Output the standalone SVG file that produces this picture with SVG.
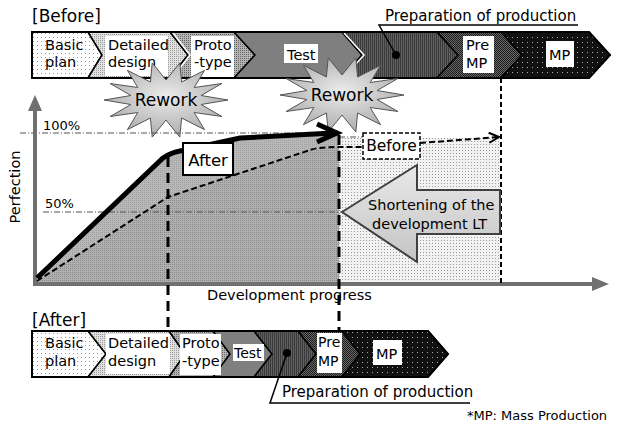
<svg xmlns="http://www.w3.org/2000/svg" width="619" height="428" viewBox="0 0 619 428">
<style>
text{font-family:"DejaVu Sans","Liberation Sans",sans-serif;fill:#000}
.lbl{font-size:14.5px}
.seg{stroke:#000;stroke-width:1.5;stroke-linejoin:miter}
.box{fill:#fff}
.dd{fill:none;stroke:#555;stroke-width:1;stroke-dasharray:6 2 1 2}
.vd{fill:none;stroke:#000;stroke-width:3;stroke-dasharray:10 6}
.star{stroke:#555;stroke-width:1;fill:url(#gStar)}
</style>
<defs>
<pattern id="pBasic" width="4" height="4" patternUnits="userSpaceOnUse"><rect width="4" height="4" fill="#fff"/><rect x="1" y="1" width="1" height="1" fill="#999"/></pattern>
<pattern id="pDesign" width="2" height="2" patternUnits="userSpaceOnUse"><rect width="2" height="2" fill="#e2e2e2"/><rect width="1" height="1" fill="#999"/></pattern>
<pattern id="pProto" width="2" height="2" patternUnits="userSpaceOnUse"><rect width="2" height="2" fill="#b4b4b4"/><rect width="1" height="1" fill="#666"/></pattern>
<pattern id="pPrep" width="2" height="2" patternUnits="userSpaceOnUse"><rect width="2" height="2" fill="#606060"/><rect width="1" height="2" fill="#3a3a3a"/></pattern>
<pattern id="pPreMP" width="2" height="2" patternUnits="userSpaceOnUse"><rect width="2" height="2" fill="#6a6a6a"/><rect width="1" height="1" fill="#1a1a1a"/><rect x="1" y="1" width="1" height="1" fill="#1a1a1a"/></pattern>
<pattern id="pMP" width="5" height="5" patternUnits="userSpaceOnUse"><rect width="5" height="5" fill="#111"/><rect x="2" y="2" width="1" height="1" fill="#aaa"/></pattern>
<pattern id="pAfter" width="2" height="2" patternUnits="userSpaceOnUse"><rect width="2" height="2" fill="#b8b8b8"/><rect width="1" height="1" fill="#a0a0a0"/></pattern>
<pattern id="pBelow" width="2" height="2" patternUnits="userSpaceOnUse"><rect width="2" height="2" fill="#b0b0b0"/><rect width="1" height="1" fill="#8a8a8a"/></pattern>
<pattern id="pLight" width="3" height="3" patternUnits="userSpaceOnUse"><rect width="3" height="3" fill="#f2f2f2"/><rect width="1" height="1" fill="#999"/></pattern>
<radialGradient id="gStar" cx="0.5" cy="0.45" r="0.6"><stop offset="0" stop-color="#ececec"/><stop offset="1" stop-color="#a6a6a6"/></radialGradient>
<linearGradient id="gArrow" x1="0" y1="0" x2="0" y2="1"><stop offset="0" stop-color="#e8e8e8"/><stop offset="1" stop-color="#c4c4c4"/></linearGradient>
<marker id="mOpen" viewBox="0 0 12 12" refX="11" refY="6" markerWidth="12" markerHeight="12" markerUnits="userSpaceOnUse" orient="auto"><path d="M1,1 L11,6 L1,11" fill="none" stroke="#000" stroke-width="2"/></marker>
</defs>

<rect width="619" height="428" fill="#fff"/>

<!-- chart area fills -->
<g id="areas">
<polygon points="339,138 500,138 500,284 339,284" fill="url(#pLight)"/>
<polygon points="37,280 163,158 176,152 240,138 339,133 339,284 37,284" fill="url(#pAfter)"/>
<polygon points="37,281 168,197 310,150 339,147 339,284 37,284" fill="url(#pBelow)"/>
</g>

<!-- top bar -->
<g id="before-bar">
<text x="32" y="22" style="font-size:17px">[Before]</text>
<polygon class="seg" fill="url(#pBasic)" points="32,32 88,32 102,55 88,78 32,78"/>
<polygon class="seg" fill="url(#pDesign)" points="88,32 170,32 188,55 170,78 88,78 102,55"/>
<polygon class="seg" fill="url(#pProto)" points="170,32 234,32 255,55 234,78 170,78 188,55"/>
<polygon class="seg" fill="#7f7f7f" points="234,32 342,32 362,55 342,78 234,78 255,55"/>
<polygon class="seg" fill="url(#pPrep)" points="342,32 437,32 458,55 437,78 342,78 362,55"/>
<polygon class="seg" fill="url(#pPreMP)" points="437,32 501,32 522,55 501,78 437,78 458,55"/>
<polygon class="seg" fill="url(#pMP)" points="501,32 589,32 610,55 589,78 501,78 522,55"/>
<polyline points="173,33 190,55 173,77" fill="none" stroke="#fff" stroke-width="1.5"/>
<polyline points="344,33 364,55 344,77" fill="none" stroke="#fff" stroke-width="1.5"/>
<polygon points="32,32 589,32 610,55 589,78 32,78" fill="none" stroke="#000" stroke-width="2"/>
<text class="lbl" x="45" y="50">Basic</text><text class="lbl" x="45" y="67">plan</text>
<rect class="box" x="105" y="36" width="63" height="40"/>
<text class="lbl" x="108" y="50">Detailed</text><text class="lbl" x="108" y="67">design</text>
<rect class="box" x="191" y="36" width="43" height="41"/>
<text class="lbl" x="194" y="50">Proto</text><text class="lbl" x="194" y="67">-type</text>
<rect class="box" x="284" y="44" width="34" height="19"/>
<text class="lbl" x="287" y="60">Test</text>
<rect class="box" x="463" y="36" width="31" height="37"/>
<text class="lbl" x="466" y="50">Pre</text><text class="lbl" x="466" y="68">MP</text>
<rect class="box" x="546" y="41" width="28" height="26"/>
<text class="lbl" x="549" y="60">MP</text>
</g>

<g id="before-prep-label">
<text x="385" y="21" style="font-size:15px">Preparation of production</text>
<polyline points="578,25 379,25 396,55" fill="none" stroke="#000" stroke-width="1.5"/>
<circle cx="396" cy="55" r="4" fill="#000"/>
</g>

<!-- stars -->
<g id="rework1">
<polygon class="star" points="228,100 201.1,104.5 221.9,116.5 194.2,112.5 204.6,129.7 181.6,118 179.8,137.1 166,120 152.2,137.1 150.4,118 127.4,129.7 137.8,112.5 110.1,116.5 130.9,104.5 104,100 130.9,95.5 110.1,83.5 137.8,87.5 127.4,70.3 150.4,82 152.2,62.9 166,80 179.8,62.9 181.6,82 204.6,70.3 194.2,87.5 221.9,83.5 201.1,95.5"/>
<text x="166" y="106" text-anchor="middle" style="font-size:17px">Rework</text>
</g>
<g id="rework2" transform="translate(176,-5)">
<polygon class="star" points="228,100 201.1,104.5 221.9,116.5 194.2,112.5 204.6,129.7 181.6,118 179.8,137.1 166,120 152.2,137.1 150.4,118 127.4,129.7 137.8,112.5 110.1,116.5 130.9,104.5 104,100 130.9,95.5 110.1,83.5 137.8,87.5 127.4,70.3 150.4,82 152.2,62.9 166,80 179.8,62.9 181.6,82 204.6,70.3 194.2,87.5 221.9,83.5 201.1,95.5"/>
<text x="166" y="106" text-anchor="middle" style="font-size:17px">Rework</text>
</g>

<!-- axes and guide lines -->
<g id="axes">
<line class="dd" x1="20" y1="133" x2="339" y2="133"/>
<line class="dd" x1="339" y1="137" x2="363" y2="137"/>
<line class="dd" x1="43" y1="212" x2="341" y2="212"/>
<text x="43" y="130" style="font-size:13px">100%</text>
<text x="45" y="208" style="font-size:13px">50%</text>
<line x1="35" y1="284" x2="35" y2="108" stroke="#707070" stroke-width="4"/>
<polygon points="35,95 28,111 42,111" fill="#707070"/>
<line x1="33" y1="284" x2="594" y2="284" stroke="#707070" stroke-width="4"/>
<polygon points="609,284 592,277 592,291" fill="#707070"/>
<text transform="translate(20,187) rotate(-90)" text-anchor="middle" style="font-size:14.5px">Perfection</text>
<text x="207" y="300" style="font-size:14.5px">Development progress</text>
</g>

<!-- connectors -->
<g id="connectors">
<line class="vd" x1="168" y1="157" x2="168" y2="331"/>
<line class="vd" x1="339" y1="135" x2="339" y2="331"/>
<line x1="501" y1="78" x2="501" y2="284" stroke="#000" stroke-width="2" stroke-dasharray="5 3"/>
<path d="M37,281 L168,197 L310,150 Q318,147 339,147 L363,147" fill="none" stroke="#000" stroke-width="2" stroke-dasharray="6 3"/>
<path d="M420,143 L499,137" fill="none" stroke="#000" stroke-width="2" stroke-dasharray="6 3" marker-end="url(#mOpen)"/>
<path d="M37,278 L163,158 Q170,153 180,151 L240,138 L333,133" fill="none" stroke="#000" stroke-width="5"/>
<polyline points="317,124 337,133 317,142" fill="none" stroke="#000" stroke-width="5" stroke-linejoin="miter"/>
</g>

<g id="after-label">
<rect x="183" y="143" width="50" height="32" fill="#fff" stroke="#000" stroke-width="2"/>
<text x="208" y="166" text-anchor="middle" style="font-size:16.5px">After</text>
</g>
<g id="before-label">
<rect x="363" y="133" width="57" height="26" fill="#fff" stroke="#000" stroke-width="1.5" stroke-dasharray="4 2"/>
<text x="391.5" y="151" text-anchor="middle" style="font-size:15.5px">Before</text>
</g>

<g id="shortening">
<polygon points="342,212 417,165 417,190 500,190 500,234 417,234 417,262" fill="url(#gArrow)" stroke="#404040" stroke-width="2"/>
<text x="368" y="210" style="font-size:14.5px">Shortening of the</text>
<text x="372" y="229" style="font-size:14.5px">development LT</text>
</g>

<!-- bottom bar -->
<g id="after-bar">
<text x="32" y="326" style="font-size:17px">[After]</text>
<polygon class="seg" fill="url(#pBasic)" points="32,331 88,331 106,354 88,377 32,377"/>
<polygon class="seg" fill="url(#pDesign)" points="88,331 169,331 185,354 169,377 88,377 106,354"/>
<polygon class="seg" fill="url(#pProto)" points="169,331 213,331 230,354 213,377 169,377 185,354"/>
<polygon class="seg" fill="#7f7f7f" points="213,331 254,331 272,354 254,377 213,377 230,354"/>
<polygon class="seg" fill="url(#pPrep)" points="254,331 298,331 316,354 298,377 254,377 272,354"/>
<polygon class="seg" fill="url(#pPreMP)" points="298,331 342,331 360,354 342,377 298,377 316,354"/>
<polygon class="seg" fill="url(#pMP)" points="342,331 428,331 448,354 428,377 342,377 360,354"/>
<polygon points="32,331 428,331 448,354 428,377 32,377" fill="none" stroke="#000" stroke-width="2"/>
<text class="lbl" x="45" y="348">Basic</text><text class="lbl" x="45" y="366">plan</text>
<rect class="box" x="106" y="334" width="64" height="40"/>
<text class="lbl" x="108" y="348">Detailed</text><text class="lbl" x="108" y="366">design</text>
<rect class="box" x="180" y="334" width="41" height="41"/>
<text class="lbl" x="182" y="348">Proto</text><text class="lbl" x="182" y="366">-type</text>
<rect class="box" x="233" y="344" width="31" height="17"/>
<text x="234" y="358" style="font-size:14px">Test</text>
<rect class="box" x="317" y="333" width="25" height="40"/>
<text x="318" y="347" style="font-size:14px">Pre</text><text x="318" y="366" style="font-size:14px">MP</text>
<rect class="box" x="373" y="340" width="29" height="25"/>
<text class="lbl" x="376" y="359">MP</text>
</g>

<g id="after-prep-label">
<text x="282" y="397" style="font-size:15px">Preparation of production</text>
<polyline points="287,353 270,403 470,403" fill="none" stroke="#000" stroke-width="1.5"/>
<circle cx="287" cy="353" r="4" fill="#000"/>
</g>

<text x="467" y="420" style="font-size:13px">*MP: Mass Production</text>
</svg>
